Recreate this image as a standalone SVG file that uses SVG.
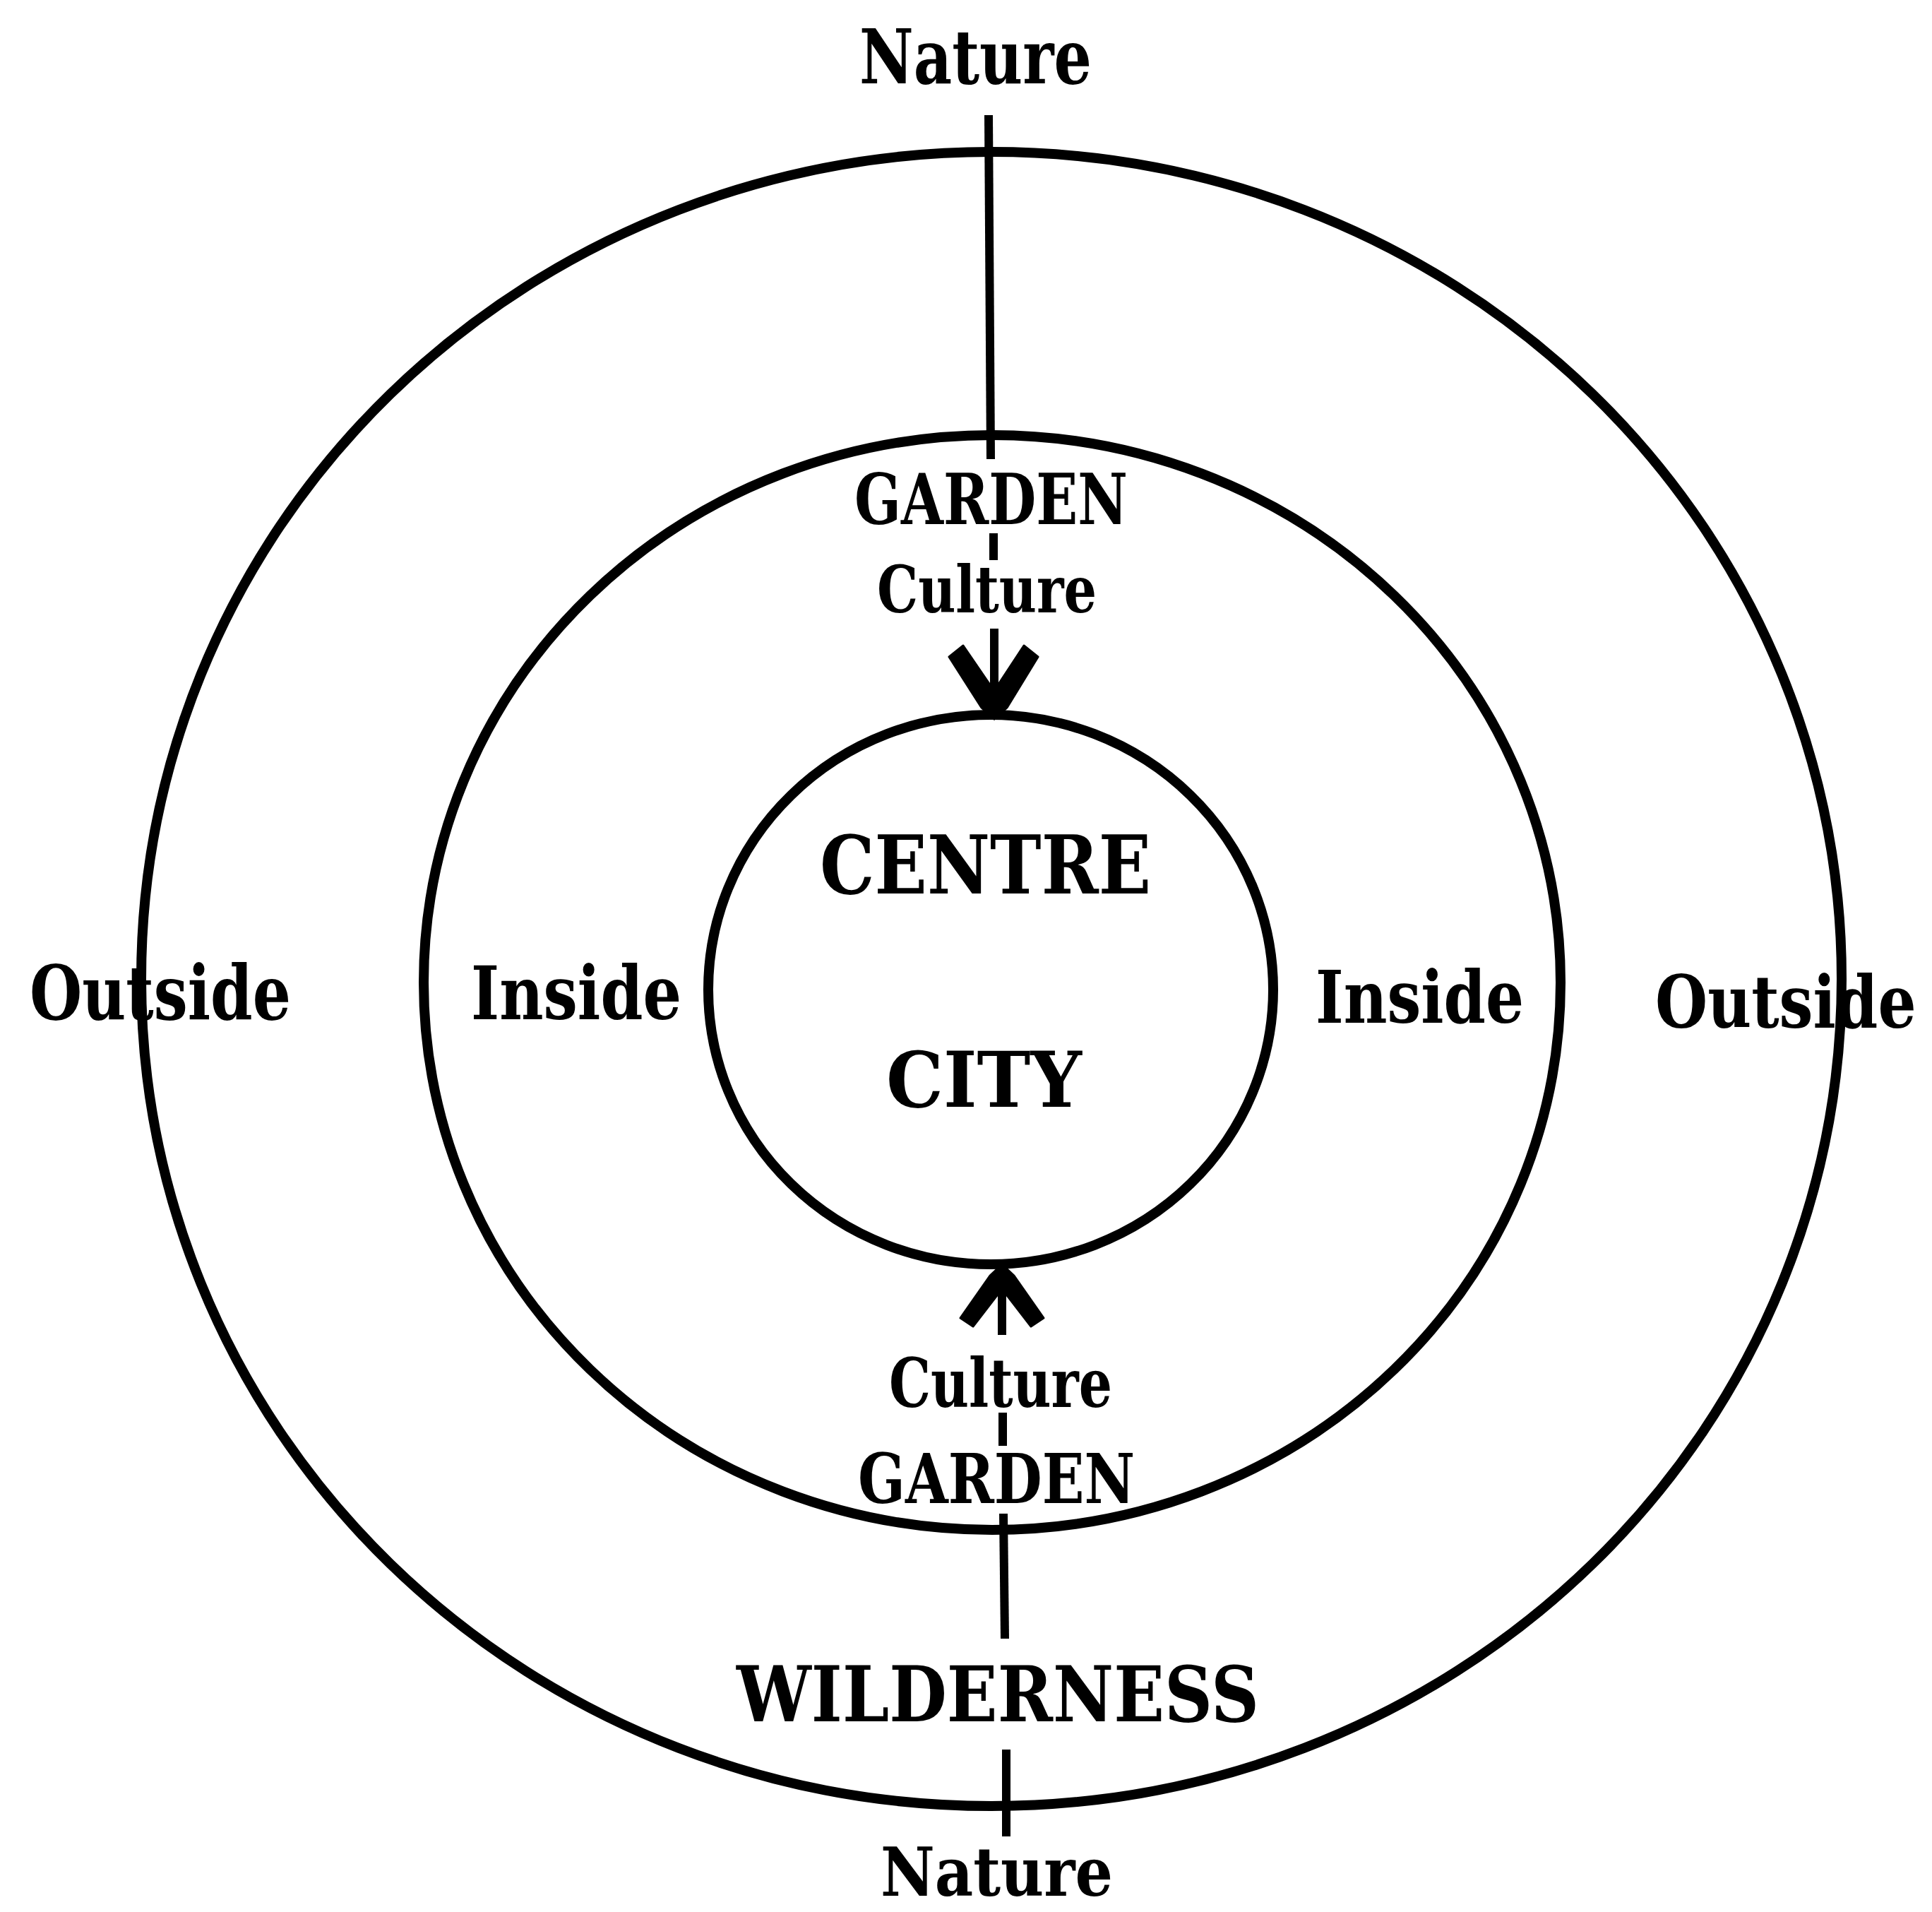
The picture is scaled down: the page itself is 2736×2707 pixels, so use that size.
<svg xmlns="http://www.w3.org/2000/svg" width="2736" height="2707" viewBox="0 0 2736 2707">
<style>
.ring{fill:none;stroke:#000;stroke-width:14}
.ln{stroke:#000;stroke-width:12;fill:none}
.head{fill:#000;stroke:#000;stroke-width:3;stroke-linejoin:round}
text{font-family:"DejaVu Serif","Liberation Serif",serif;font-weight:bold;fill:#000}
</style>
<rect width="2736" height="2707" fill="#fff"/>
<g id="wilderness-ring">
<ellipse class="ring" cx="1404" cy="1386" rx="1204" ry="1171"/>
<text x="1043" y="2437" font-size="108" textLength="740" lengthAdjust="spacingAndGlyphs">WILDERNESS</text>
<text x="42" y="1443" font-size="107" textLength="370" lengthAdjust="spacingAndGlyphs">Outside</text>
<text transform="translate(2344,1455) scale(0.84,1)" x="0" y="0" font-size="102" textLength="440" lengthAdjust="spacingAndGlyphs">Outside</text>
</g>
<g id="garden-ring">
<ellipse class="ring" cx="1405" cy="1391" rx="805" ry="775"/>
<text x="1210" y="742" font-size="99" textLength="387" lengthAdjust="spacingAndGlyphs">GARDEN</text>
<text x="1242" y="867" font-size="92" textLength="311" lengthAdjust="spacingAndGlyphs">Culture</text>
<text x="1259" y="1992" font-size="95" textLength="316" lengthAdjust="spacingAndGlyphs">Culture</text>
<text x="1215" y="2128" font-size="97" textLength="392" lengthAdjust="spacingAndGlyphs">GARDEN</text>
<text x="667" y="1443" font-size="105" textLength="298" lengthAdjust="spacingAndGlyphs">Inside</text>
<text x="1863" y="1448" font-size="102" textLength="295" lengthAdjust="spacingAndGlyphs">Inside</text>
</g>
<g id="city-ring">
<ellipse class="ring" cx="1403" cy="1401" rx="400" ry="389"/>
<text x="1161" y="1265" font-size="114" textLength="469" lengthAdjust="spacingAndGlyphs">CENTRE</text>
<text x="1255" y="1567" font-size="108" textLength="277" lengthAdjust="spacingAndGlyphs">CITY</text>
</g>
<g id="nature-top">
<text x="1217" y="118" font-size="107" textLength="329" lengthAdjust="spacingAndGlyphs">Nature</text>
</g>
<g id="nature-bottom">
<text x="1247" y="2684" font-size="95" textLength="329" lengthAdjust="spacingAndGlyphs">Nature</text>
</g>
<g id="connectors">
<line class="ln" x1="1400" y1="163" x2="1403" y2="650"/>
<line class="ln" x1="1407" y1="755" x2="1407" y2="793"/>
<line class="ln" x1="1408" y1="890" x2="1408" y2="1005"/>
<polygon class="head" points="1344,930 1364,914 1416,990 1408,1018 1390,1002"/>
<polygon class="head" points="1470,930 1450,914 1400,990 1408,1018 1426,1002"/>
<line class="ln" x1="1419" y1="1800" x2="1419" y2="1890"/>
<polygon class="head" points="1360,1866 1378,1878 1425,1817 1419,1790 1402,1806"/>
<polygon class="head" points="1478,1866 1460,1878 1413,1817 1419,1790 1436,1806"/>
<line class="ln" x1="1420" y1="2000" x2="1420" y2="2047"/>
<line class="ln" x1="1421" y1="2143" x2="1423" y2="2320"/>
<line class="ln" x1="1425" y1="2477" x2="1425" y2="2600"/>
</g>
</svg>
